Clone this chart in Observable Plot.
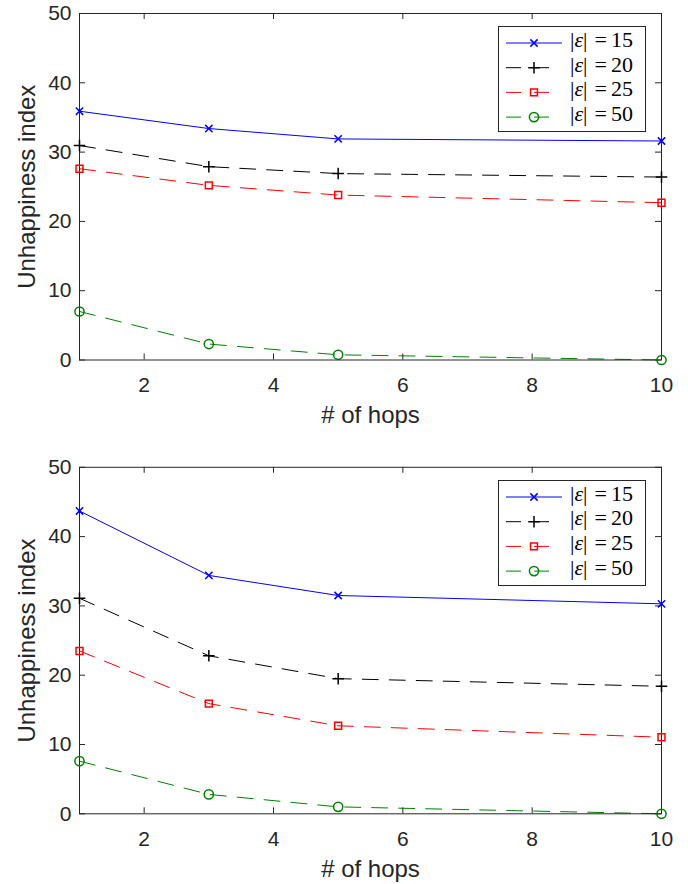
<!DOCTYPE html>
<html><head><meta charset="utf-8">
<script src="https://cdn.jsdelivr.net/npm/d3@7"></script>
<script src="https://cdn.jsdelivr.net/npm/@observablehq/plot@0.6"></script>
<style>
body{margin:0;background:#fff;}
#root{position:relative;width:688px;height:884px;overflow:hidden;}
.panel{position:absolute;left:0;width:688px;}
.legend{position:absolute;border:1px solid #262626;background:#fff;box-sizing:border-box;}
.legend svg{position:absolute;left:0;top:0;}
.lrow{position:absolute;font-family:"Liberation Serif","DejaVu Serif",serif;font-size:22px;color:#000;white-space:nowrap;line-height:22px;}
.lrow i{font-style:italic;}
.lrow .eq{margin:0 4px 0 7px;}
</style></head><body><div id="root"></div>
<script>
// ---- data ----
const hops = [1, 3, 5, 10];
const xTicks = [2, 4, 6, 8, 10];
const yTicks = [0, 10, 20, 30, 40, 50];
const epsLabels = ["15", "20", "25", "50"];
const seriesColors = ["#0000ff", "#000000", "#ff0000", "#008000"];
const seriesSymbols = ["times", "plus", "square", "circle"];

const topE15 = [35.9, 33.4, 31.9, 31.6];
const topE20 = [30.95, 27.9, 26.9, 26.4];
const topE25 = [27.6, 25.2, 23.8, 22.7];
const topE50 = [7.0, 2.3, 0.75, 0.0];

const bottomE15 = [43.7, 34.4, 31.5, 30.3];
const bottomE20 = [31.1, 22.8, 19.5, 18.4];
const bottomE25 = [23.5, 15.9, 12.7, 11.05];
const bottomE50 = [7.6, 2.8, 1.0, 0.0];

const xLabel = "# of hops";
const yLabel = "Unhappiness index";

// ---- styling ----
const axisColor = "#262626";
const dashes = [null, "16,11", "16,11", "16,11"];
const legendDashes = [null, "15,13", "15,13", "15,13"];
const symR = {times: 3.4, plus: 3.8, square: 3.9, circle: 4.6};
const marginLeft = 79, marginRight = 27;
const innerW = 688 - marginLeft - marginRight;
const innerH = 346.5;
const font = "'Liberation Sans', Arial, Helvetica, sans-serif";

const root = document.getElementById("root");

function makePanel(seriesVals, top, height, marginTop) {
  const marginBottom = height - marginTop - innerH;
  const marks = [];
  seriesVals.forEach((vals, s) => {
    const data = hops.map((h, i) => ({x: h, y: vals[i]}));
    marks.push(Plot.line(data, {x: "x", y: "y", stroke: seriesColors[s], strokeWidth: 1,
      strokeDasharray: dashes[s] || undefined}));
  });
  marks.push(Plot.frame({stroke: axisColor, strokeWidth: 1}));
  marks.push(Plot.tickX(xTicks, {x: d => d, stroke: axisColor, insetTop: innerH - 6}));
  marks.push(Plot.tickX(xTicks, {x: d => d, stroke: axisColor, insetBottom: innerH - 6}));
  marks.push(Plot.tickY(yTicks, {y: d => d, stroke: axisColor, insetRight: innerW - 6}));
  marks.push(Plot.tickY(yTicks, {y: d => d, stroke: axisColor, insetLeft: innerW - 6}));
  marks.push(Plot.axisX({ticks: xTicks, tickSize: 0, tickPadding: 17, tickFormat: d => String(d),
    fontSize: 21, label: null}));
  marks.push(Plot.axisX({ticks: [], tickSize: 0, label: xLabel, labelAnchor: "center", labelArrow: "none",
    labelOffset: 63, fontSize: 24}));
  marks.push(Plot.axisY({ticks: yTicks, tickSize: 0, tickPadding: 8, tickFormat: d => String(d),
    fontSize: 21, label: null}));
  marks.push(Plot.axisY({ticks: [], tickSize: 0, label: yLabel, labelAnchor: "center", labelArrow: "none",
    labelOffset: 62, fontSize: 24}));
  seriesVals.forEach((vals, s) => {
    const data = hops.map((h, i) => ({x: h, y: vals[i]}));
    marks.push(Plot.dot(data, {x: "x", y: "y", symbol: seriesSymbols[s], r: symR[seriesSymbols[s]],
      stroke: seriesColors[s], fill: "none", strokeWidth: 1.5}));
  });
  const chart = Plot.plot({
    width: 688, height, marginTop, marginBottom, marginLeft, marginRight,
    x: {domain: [1, 10]}, y: {domain: [0, 50]},
    style: {fontFamily: font, color: axisColor, background: "#fff", overflow: "visible"},
    marks
  });
  const wrap = document.createElement("div");
  wrap.className = "panel";
  wrap.style.top = top + "px";
  wrap.style.height = height + "px";
  wrap.appendChild(chart);
  root.appendChild(wrap);

  // legend
  const lw = 148, lh = 106;
  const lg = document.createElement("div");
  lg.className = "legend";
  lg.style.left = (marginLeft + innerW - 15 - lw) + "px";
  lg.style.top = (top + marginTop + 13) + "px";
  lg.style.width = lw + "px";
  lg.style.height = lh + "px";
  const svg = d3.create("svg").attr("width", lw).attr("height", lh);
  const symMap = {times: d3.symbolTimes, plus: d3.symbolPlus, square: d3.symbolSquare, circle: d3.symbolCircle};
  epsLabels.forEach((lab, s) => {
    const cy = 16 + s * 24.7;
    svg.append("line").attr("x1", 7).attr("x2", 63).attr("y1", cy).attr("y2", cy)
      .attr("stroke", seriesColors[s]).attr("stroke-width", 1)
      .attr("stroke-dasharray", legendDashes[s]);
    const r = symR[seriesSymbols[s]];
    svg.append("path").attr("d", d3.symbol(symMap[seriesSymbols[s]], Math.PI * r * r)())
      .attr("transform", `translate(35,${cy})`)
      .attr("stroke", seriesColors[s]).attr("fill", "none").attr("stroke-width", 1.5);
    const row = document.createElement("div");
    row.className = "lrow";
    row.style.left = "71px";
    row.style.top = (cy - 14) + "px";
    row.innerHTML = `|<i>ε</i>|<span class="eq">=</span>${lab}`;
    lg.appendChild(row);
  });
  lg.appendChild(svg.node());
  root.appendChild(lg);
}

makePanel([topE15, topE20, topE25, topE50], 0, 454, 13);
makePanel([bottomE15, bottomE20, bottomE25, bottomE50], 454, 430, 12.8);
</script>
</body></html>
